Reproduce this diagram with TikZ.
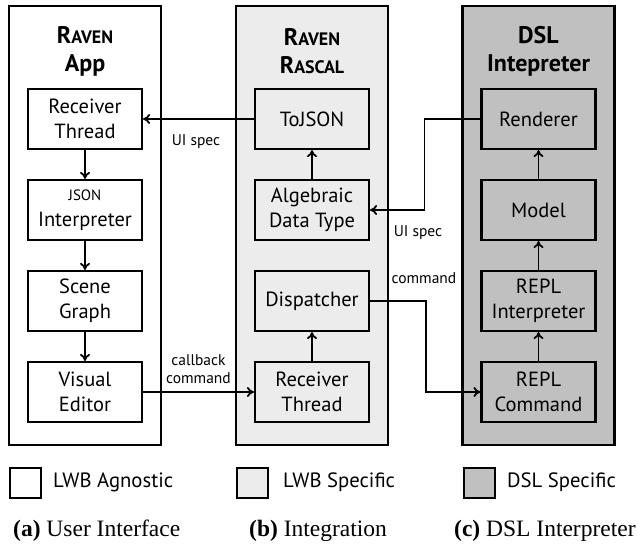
\documentclass[tikz,border=0pt]{standalone}
\usepackage{fontspec}
\setmainfont{PT Sans}
\newfontfamily\capfont{Liberation Serif}
\usetikzlibrary{arrows.meta,positioning}
\definecolor{lwbspec}{HTML}{ECECEC}
\definecolor{dslspec}{HTML}{C0C0C0}
\newcommand{\fsc}[2]{#1{\fontsize{18}{20}\selectfont #2}}
\tikzset{
  outerbox/.style={draw, line width=2.1pt, minimum width=152pt, minimum height=439pt, anchor=north, inner sep=0pt},
  innerbox/.style={draw, line width=2.1pt, minimum width=114pt, minimum height=60pt, align=center, inner sep=0pt,
    font=\fontsize{20.5}{25.5}\selectfont},
  titletext/.style={align=center, font=\bfseries\fontsize{24}{28}\selectfont, inner sep=0pt},
  arr/.style={-{To[length=7pt,width=10pt]}, line width=1.8pt},
  lbl/.style={font=\fontsize{15.5}{18.5}\selectfont, align=center, inner sep=0pt},
  legbox/.style={draw, line width=2.1pt, minimum width=31pt, minimum height=30pt, anchor=north west, inner sep=0pt},
  legtext/.style={anchor=west, font=\fontsize{20.7}{24}\selectfont, inner sep=0pt},
  captext/.style={anchor=west, font=\capfont\fontsize{23.5}{26}\selectfont, inner sep=0pt}
}
\begin{document}
\begin{tikzpicture}[x=1pt,y=-1pt]
\useasboundingbox (0,0) rectangle (638,548);
% outer boxes
\node[outerbox, fill=white] (A) at (85,5) {};
\node[outerbox, fill=lwbspec] (B) at (312,5) {};
\node[outerbox, fill=dslspec] (C) at (538.5,5) {};
% titles
\node[titletext] (tA) at (85,51) {\fsc{R}{AVEN}\\App};
\node[titletext] (tB) at (312,51) {\fsc{R}{AVEN}\\\fsc{R}{ASCAL}};
\node[titletext] (tC) at (538.5,51) {DSL\\Intepreter};
% column A
\node[innerbox, fill=white] (a1) at (85,119) {Receiver\\Thread};
\node[innerbox, fill=white] (a2) at (85,210) {{\fontsize{15}{17}\selectfont JSON}\\Interpreter};
\node[innerbox, fill=white] (a3) at (85,301) {Scene\\Graph};
\node[innerbox, fill=white] (a4) at (85,392) {Visual\\Editor};
% column B
\node[innerbox, fill=lwbspec] (b1) at (312,119) {ToJSON};
\node[innerbox, fill=lwbspec] (b2) at (312,210) {Algebraic\\Data Type};
\node[innerbox, fill=lwbspec] (b3) at (312,301) {Dispatcher};
\node[innerbox, fill=lwbspec] (b4) at (312,392) {Receiver\\Thread};
% column C
\node[innerbox, fill=dslspec] (c1) at (538.5,119) {Renderer};
\node[innerbox, fill=dslspec] (c2) at (538.5,210) {Model};
\node[innerbox, fill=dslspec] (c3) at (538.5,301) {REPL\\Interpreter};
\node[innerbox, fill=dslspec] (c4) at (538.5,392) {REPL\\Command};
% vertical arrows
\draw[arr] (a1) -- (a2);
\draw[arr] (a2) -- (a3);
\draw[arr] (a3) -- (a4);
\draw[arr] (b4) -- (b3);
\draw[arr] (b2) -- (b1);
\draw[arr] (c4) -- (c3);
\draw[arr] (c3) -- (c2);
\draw[arr] (c2) -- (c1);
% cross arrows
\draw[arr] (b1.west) -- (a1.east);
\node[lbl] (l1) at (196,142) {UI spec};
\draw[arr] (c1.west) -- ([xshift=-56pt]c1.west) |- (b2.east);
\node[lbl] (l2) at (418,233) {UI spec};
\draw[arr] (b3.east) -- ([xshift=56pt]b3.east) |- (c4.west);
\node[lbl] (l3) at (424,278) {command};
\draw[arr] (a4.east) -- (b4.west);
\node[lbl] (l4) at (198.5,369) {callback\\command};
% legend
\node[legbox, fill=white] (k1) at (9,467) {};
\node[legtext] (k1t) at (53,482) {LWB Agnostic};
\node[legbox, fill=lwbspec] (k2) at (236,467) {};
\node[legtext] (k2t) at (283,482) {LWB Specific};
\node[legbox, fill=dslspec] (k3) at (463,467) {};
\node[legtext] (k3t) at (507,482) {DSL Specific};
% captions
\node[captext] (capA) at (13,531) {\textbf{(a)} User Interface};
\node[captext] (capB) at (249,531) {\textbf{(b)} Integration};
\node[captext] (capC) at (454,531) {\textbf{(c)} DSL Interpreter};
\end{tikzpicture}
\end{document}
